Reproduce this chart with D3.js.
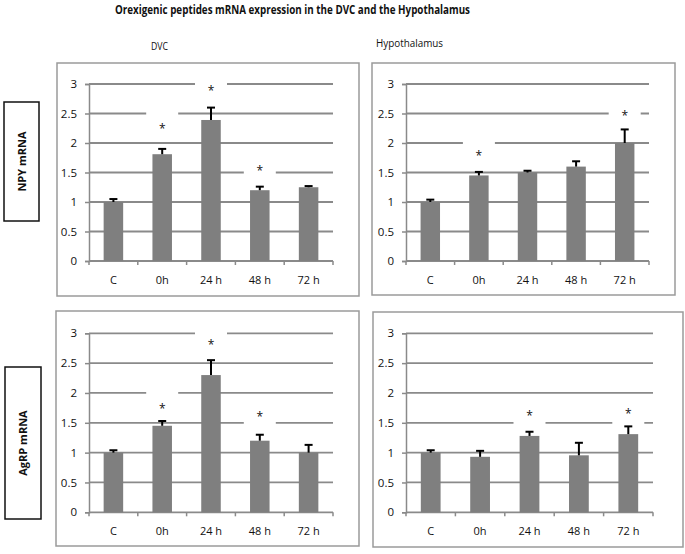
<!DOCTYPE html>
<html><head><meta charset="utf-8">
<script src="https://cdn.jsdelivr.net/npm/d3@7"></script>
<style>body{margin:0;background:#fff}svg{display:block}</style>
</head><body>
<script>
// ---- data ----
const categories = ["C", "0h", "24 h", "48 h", "72 h"];
const yTicks = [0, 0.5, 1, 1.5, 2, 2.5, 3];
const yTickLabels = ["0", "0.5", "1", "1.5", "2", "2.5", "3"];

const npyDVC = [1.0, 1.81, 2.39, 1.20, 1.25];
const npyDVCErr = [0.05, 0.09, 0.21, 0.06, 0.02];
const npyDVCStar = [null, 2.27, 2.92, 1.56, null];

const npyHyp = [1.0, 1.45, 1.50, 1.60, 2.00];
const npyHypErr = [0.04, 0.06, 0.03, 0.09, 0.23];
const npyHypStar = [null, 1.81, null, null, 2.49];

const agrpDVC = [1.0, 1.45, 2.30, 1.20, 1.00];
const agrpDVCErr = [0.04, 0.08, 0.25, 0.10, 0.13];
const agrpDVCStar = [null, 1.76, 2.84, 1.63, null];

const agrpHyp = [1.0, 0.93, 1.28, 0.955, 1.31];
const agrpHypErr = [0.04, 0.10, 0.07, 0.21, 0.13];
const agrpHypStar = [null, null, 1.65, null, 1.68];

const title = "Orexigenic peptides mRNA expression in the DVC and the Hypothalamus";
const columnTitles = ["DVC", "Hypothalamus"];
const rowTitles = ["NPY mRNA", "AgRP mRNA"];

// ---- layout ----
const W = 685, H = 554;
const FONT = "'Open Sans', 'DejaVu Sans', sans-serif";
const svg = d3.select("body").append("svg").attr("width", W).attr("height", H);

svg.append("text").attr("x", 292.5).attr("y", 14).attr("text-anchor", "middle")
  .attr("font-family", FONT).attr("font-weight", "bold").attr("font-size", 11.5)
  .attr("textLength", 355).attr("lengthAdjust", "spacingAndGlyphs")
  .attr("fill", "#111").text(title);

[[159.5, 50, 17], [409.5, 47, 67]].forEach((p, i) => {
  svg.append("text").attr("x", p[0]).attr("y", p[1]).attr("text-anchor", "middle")
    .attr("font-family", FONT).attr("font-size", 11)
    .attr("textLength", p[2]).attr("lengthAdjust", "spacingAndGlyphs")
    .attr("fill", "#111").text(columnTitles[i]);
});

[[4, 102, 35, 119], [5, 367, 36, 152]].forEach((b, i) => {
  svg.append("rect").attr("x", b[0]).attr("y", b[1]).attr("width", b[2]).attr("height", b[3])
    .attr("fill", "#fff").attr("stroke", "#111").attr("stroke-width", 1.5);
  const cx = b[0] + b[2] / 2, cy = b[1] + b[3] / 2;
  svg.append("text").attr("transform", `translate(${cx + 4},${cy}) rotate(-90)`)
    .attr("text-anchor", "middle").attr("font-family", FONT).attr("font-weight", "bold")
    .attr("font-size", 11).attr("fill", "#111").text(rowTitles[i]);
});

const panels = [
  { v: npyDVC, e: npyDVCErr, s: npyDVCStar, box: [57, 63, 359, 296], x: [89, 333], y: [261, 84] },
  { v: npyHyp, e: npyHypErr, s: npyHypStar, box: [372, 63, 675, 295], x: [406, 649], y: [261, 84] },
  { v: agrpDVC, e: agrpDVCErr, s: agrpDVCStar, box: [56, 311, 359, 546], x: [89, 333], y: [512.3, 333.3] },
  { v: agrpHyp, e: agrpHypErr, s: agrpHypStar, box: [373, 312, 683, 547], x: [406, 653], y: [512.3, 333.3] }
];

const GRID = "#8a8a8a", BAR = "#7f7f7f";

panels.forEach(p => {
  const g = svg.append("g");
  g.append("rect").attr("x", p.box[0]).attr("y", p.box[1])
    .attr("width", p.box[2] - p.box[0]).attr("height", p.box[3] - p.box[1])
    .attr("fill", "#fff").attr("stroke", "#9a9a9a").attr("stroke-width", 1.5);

  const x = d3.scaleBand().domain(categories).range(p.x).paddingInner(0.6).paddingOuter(0.3);
  const xb = d3.scaleBand().domain(categories).range(p.x);
  const y = d3.scaleLinear().domain([0, 3]).range(p.y);

  // gridlines
  g.selectAll(".grid").data(yTicks.filter(t => t > 0)).join("line")
    .attr("x1", p.x[0]).attr("x2", p.x[1])
    .attr("y1", d => y(d)).attr("y2", d => y(d))
    .attr("stroke", GRID).attr("stroke-width", 1.8);

  // y axis
  const ya = d3.axisLeft(y).tickValues(yTicks).tickFormat((d, i) => yTickLabels[i])
    .tickSize(4).tickPadding(8);
  const yg = g.append("g").attr("transform", `translate(${p.x[0]},0)`).call(ya);
  yg.select(".domain").attr("stroke", GRID).attr("stroke-width", 1.5);
  yg.selectAll(".tick line").attr("stroke", GRID).attr("stroke-width", 1.5);
  yg.selectAll("text").attr("font-family", FONT).attr("font-size", 11.5).attr("fill", "#111");

  // x axis with boundary ticks
  g.append("line").attr("x1", p.x[0]).attr("x2", p.x[1]).attr("y1", y(0)).attr("y2", y(0))
    .attr("stroke", GRID).attr("stroke-width", 1.8);
  const bounds = categories.map(c => xb(c)).concat([p.x[1]]);
  g.selectAll(".xt").data(bounds).join("line")
    .attr("x1", d => d).attr("x2", d => d).attr("y1", y(0)).attr("y2", y(0) + 4)
    .attr("stroke", GRID).attr("stroke-width", 1.5);
  g.selectAll(".xl").data(categories).join("text")
    .attr("x", d => xb(d) + xb.bandwidth() / 2).attr("y", y(0) + 23)
    .attr("text-anchor", "middle").attr("font-family", FONT).attr("font-size", 11)
    .attr("fill", "#111").text(d => d);

  // white gaps behind asterisks
  const stars = categories.map((c, i) => ({ c, s: p.s[i] })).filter(d => d.s != null);
  g.selectAll(".gap").data(stars).join("rect")
    .attr("x", d => xb(d.c) + xb.bandwidth() / 2 - 16).attr("width", 32)
    .attr("y", d => y(d.s) - 16).attr("height", 28).attr("fill", "#fff");

  // bars
  const data = categories.map((c, i) => ({ c, v: p.v[i], e: p.e[i] }));
  g.selectAll(".bar").data(data).join("rect")
    .attr("x", d => x(d.c)).attr("width", x.bandwidth())
    .attr("y", d => y(d.v)).attr("height", d => y(0) - y(d.v)).attr("fill", BAR);

  // error bars (upper only)
  g.selectAll(".eb").data(data).join("line")
    .attr("x1", d => x(d.c) + x.bandwidth() / 2).attr("x2", d => x(d.c) + x.bandwidth() / 2)
    .attr("y1", d => y(d.v)).attr("y2", d => y(d.v + d.e))
    .attr("stroke", "#000").attr("stroke-width", 2);
  g.selectAll(".ec").data(data).join("line")
    .attr("x1", d => x(d.c) + x.bandwidth() / 2 - 4).attr("x2", d => x(d.c) + x.bandwidth() / 2 + 4)
    .attr("y1", d => y(d.v + d.e)).attr("y2", d => y(d.v + d.e))
    .attr("stroke", "#000").attr("stroke-width", 2);

  // asterisks
  g.selectAll(".st").data(stars).join("text")
    .attr("x", d => xb(d.c) + xb.bandwidth() / 2).attr("y", d => y(d.s) + 6)
    .attr("text-anchor", "middle").attr("font-family", FONT).attr("font-size", 12)
    .attr("fill", "#111").text("*");
});
</script>
</body></html>
